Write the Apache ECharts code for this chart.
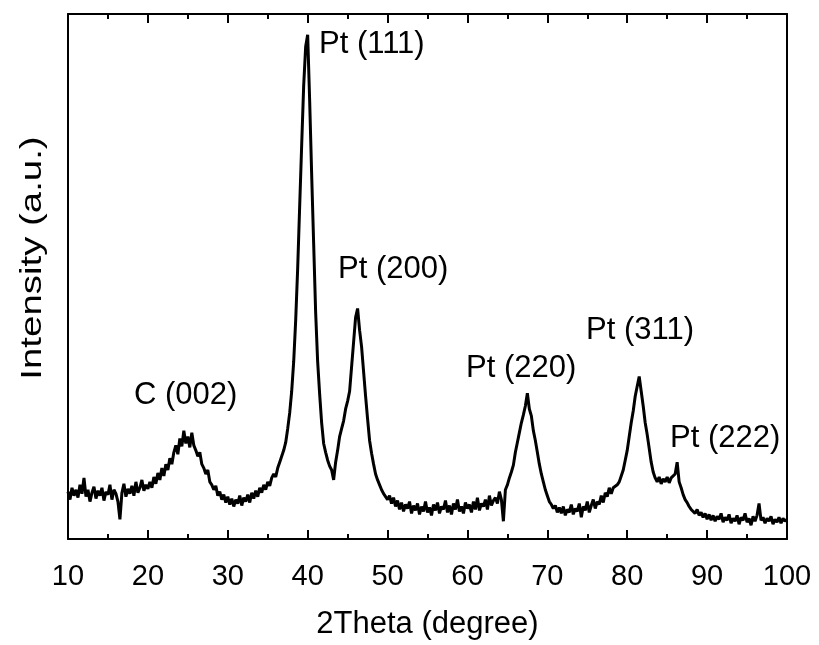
<!DOCTYPE html>
<html>
<head>
<meta charset="utf-8">
<script src="https://cdn.jsdelivr.net/npm/echarts@6/dist/echarts.min.js"></script>
<style>
html,body{margin:0;padding:0;background:#fff;}
#chart{width:819px;height:645px;}
</style>
</head>
<body>
<div id="chart"></div>
<script>
// 2Theta step of each segment (degrees)
const thetaStep = 0.25;
// Intensity segments (a.u.), each listed from its start angle at thetaStep
const seg10 = [48,40,52,44, 50,42,55,46, 62,43,50,38, 47,53,41,49, 44,52,39,48,
               45,55,40,50, 46,38,20,47, 56,43,51,46, 54,44,58,47, 52,60,49,55];
const seg20 = [51,58,52,63, 56,67,60,72, 64,76,70,82, 76,88,95,86, 102,94,110,97,
               104,93,108,95, 90,84,88,76, 72,66,70,58, 55,50,54,44, 48,40,45,37];
const seg30 = [43,35,41,33, 40,36,44,34, 42,38,45,37, 47,41,49,43, 52,47,55,50];
const seg35 = [58,54,62,66, 63,72,78,84, 90,98,112,128, 150,180,222,275, 338,400,460,500,
               512,445,370,300, 230,180,147,118, 97,88,80,74, 70,60,78,90, 104,112,120,132,
               140,150,175,200, 225,234,212,195, 170,145,122,100, 87,76,66,60, 55,50,46,43];
const seg50 = [40,44,36,42, 33,39,30,37, 28,35,31,38, 26,34,29,36, 25,33,28,38,
               27,32,24,35, 29,37,26,33, 30,39,27,34, 25,36,30,40, 28,33,26,37,
               31,35,27,38, 30,42,29,36, 33,40,30,44, 34,39,42,36, 48,40,18,50];
const seg65 = [55,62,68,75, 88,98,108,118, 126,135,148,132, 125,110,100,88, 76,66,58,50,
               44,38,35,31, 34,27,32,26, 33,24,30,27, 35,25,31,28, 36,22,33,29,
               38,27,34,40, 31,38,35,44, 37,47,43,52, 46,52,50,55, 58,64,70,80];
const seg80 = [90,104,118,130, 145,155,165,150, 135,118,106,92, 78,68,62,58, 63,56,61,58,
               63,57,62,60, 66,78,58,52, 45,40,37,33, 30,28,26,30, 24,27,22,26,
               20,25,19,24, 18,23,20,26, 17,22,19,25, 16,21,18,24, 15,22,19,26,
               17,21,14,23, 18,24,36,19, 22,16,21,18, 23,15,20,17, 22,16,21,18, 20];
const segStarts = [10, 20, 30, 35, 50, 65, 80];
const segments = [seg10, seg20, seg30, seg35, seg50, seg65, seg80];

// Axis ticks
const xTicks = [10,20,30,40,50,60,70,80,90,100];

// Peak annotations
const peakLabels = ['C (002)','Pt (111)','Pt (200)','Pt (220)','Pt (311)','Pt (222)'];
const yTitle = 'Intensity (a.u.)';

const data = [];
segments.forEach(function(seg, k){
  seg.forEach(function(v, i){
    data.push([segStarts[k] + i*thetaStep, v]);
  });
});

const FONT = '"Liberation Sans", Arial, sans-serif';
const labelPos = [[134,380],[319,29],[338,254],[466,353],[586,315],[670,423]];

const chart = echarts.init(document.getElementById('chart'), null, {renderer:'canvas'});
const graphics = peakLabels.map(function(t, i){
  return {type: 'text', left: labelPos[i][0], top: labelPos[i][1],
    style: {text: t, font: '31px ' + FONT, fill: '#000'}};
});
graphics.push({
  type: 'text', x: 33, y: 258, rotation: Math.PI/2, scaleX: 1.28, scaleY: 1,
  style: {text: yTitle, font: '30px ' + FONT, fill: '#000', align: 'center', verticalAlign: 'middle'}
});

const option = {
  animation: false,
  backgroundColor: '#fff',
  grid: {left: 68, right: 32, top: 14, bottom: 98},
  xAxis: [{
    type: 'value', min: xTicks[0], max: xTicks[xTicks.length-1], interval: 10,
    name: '2Theta (degree)', nameLocation: 'middle', nameGap: 70,
    nameTextStyle: {fontFamily: FONT, fontSize: 31, color: '#000'},
    axisLine: {show: true, onZero: false, lineStyle: {color: '#000', width: 2}},
    axisTick: {show: true, inside: true, length: 9, lineStyle: {color: '#000', width: 2}},
    minorTick: {show: true, splitNumber: 2, length: 5, lineStyle: {color: '#000', width: 2}},
    axisLabel: {fontFamily: FONT, fontSize: 29, color: '#000', margin: 23},
    splitLine: {show: false}
  },{
    type: 'value', position: 'top', min: xTicks[0], max: xTicks[xTicks.length-1], interval: 10,
    axisLine: {show: true, onZero: false, lineStyle: {color: '#000', width: 2}},
    axisTick: {show: true, inside: true, length: 9, lineStyle: {color: '#000', width: 2}},
    minorTick: {show: true, splitNumber: 2, length: 5, lineStyle: {color: '#000', width: 2}},
    axisLabel: {show: false},
    splitLine: {show: false}
  }],
  yAxis: [{
    type: 'value', min: 0, max: 533,
    axisLine: {show: true, onZero: false, lineStyle: {color: '#000', width: 2}},
    axisTick: {show: false}, axisLabel: {show: false}, splitLine: {show: false}
  },{
    type: 'value', position: 'right', min: 0, max: 533,
    axisLine: {show: true, onZero: false, lineStyle: {color: '#000', width: 2}},
    axisTick: {show: false}, axisLabel: {show: false}, splitLine: {show: false}
  }],
  series: [{
    type: 'line', data: data, showSymbol: false, symbol: 'none',
    lineStyle: {color: '#000', width: 3}, clip: true
  }],
  graphic: graphics
};
chart.setOption(option);
</script>
</body>
</html>
